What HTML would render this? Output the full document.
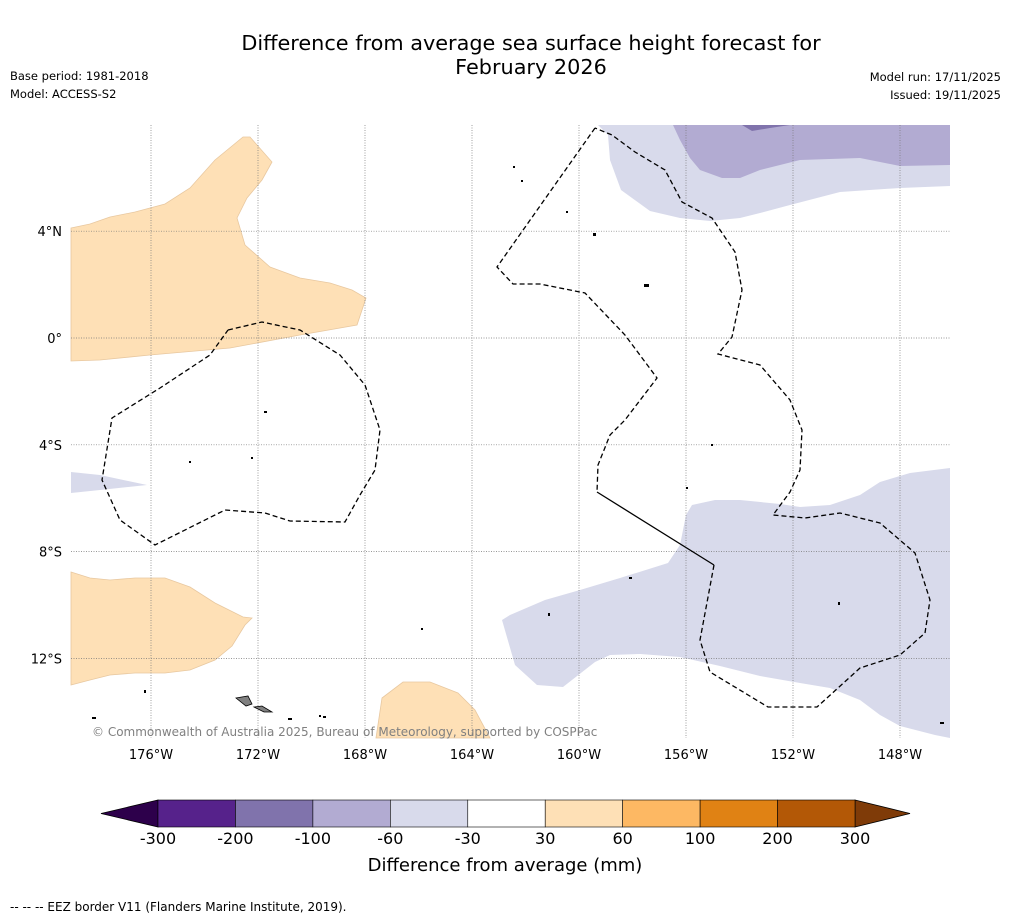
<!DOCTYPE html>
<html><head><meta charset="utf-8">
<style>
html,body{margin:0;padding:0;background:#fff;}
svg{display:block;font-family:"DejaVu Sans","Liberation Sans",sans-serif;}
</style></head>
<body>
<svg id="chart" width="1011" height="919" viewBox="0 0 1011 919">
<rect x="0" y="0" width="1011" height="919" fill="#fff"/>
<text x="531" y="50" text-anchor="middle" font-size="20.8" fill="#000">Difference from average sea surface height forecast for</text>
<text x="531" y="74" text-anchor="middle" font-size="20.8" fill="#000">February 2026</text>
<text x="10" y="80" font-size="11.5">Base period: 1981-2018</text>
<text x="10" y="98" font-size="11.5">Model: ACCESS-S2</text>
<text x="1001" y="81" font-size="11.5" text-anchor="end">Model run: 17/11/2025</text>
<text x="1001" y="99" font-size="11.5" text-anchor="end">Issued: 19/11/2025</text>

<g id="map">
<rect x="71" y="125" width="879" height="613" fill="#fff"/>
<polygon fill="#fee0b6" stroke="#e8c8a0" stroke-width="0.8" points="71,228 90,224 110,217 135,212 165,204 190,188 215,160 243,137 250,137 272,162 262,180 247,198 237,218 245,245 270,267 300,278 330,283 352,290 366,298 357,325 300,335 230,348 150,355 100,360 71,361"/>
<polygon fill="#d8daeb" points="71,472 100,475 147,485 100,490 71,493"/>
<polygon fill="#fee0b6" stroke="#e8c8a0" stroke-width="0.8" points="71,572 90,578 110,580 135,578 165,578 190,587 215,603 243,617 252,618 245,625 232,646 215,660 190,670 165,673 135,673 110,675 90,680 71,685"/>
<polygon fill="#fee0b6" stroke="#e8c8a0" stroke-width="0.8" points="382,698 403,682 430,682 458,693 475,710 490,738 376,738"/>
<polygon fill="#d8daeb" points="598,125 950,125 950,186 900,188 840,192 790,205 760,213 740,218 710,221 680,218 650,211 621,190 610,160 608,135"/>
<polygon fill="#b2abd2" points="673,125 950,125 950,165 900,166 860,158 800,160 760,170 740,178 722,178 700,170 690,158 680,140"/>
<polygon fill="#8073ac" points="742,125 790,125 770,128 752,131"/>
<polygon fill="#d8daeb" points="502,620 510,615 545,600 580,590 620,578 668,563 680,545 686,515 692,505 715,500 740,500 780,504 800,507 830,505 860,495 880,482 910,473 950,468 950,738 935,735 900,726 880,715 860,700 830,688 800,683 760,676 720,666 680,657 640,654 610,655 595,662 563,687 537,685 515,665"/>
<g id="grid"></g>
<polyline fill="none" stroke="#000" stroke-width="1.3" stroke-dasharray="5,3" points="228,330 262,322 300,330 340,355 365,385 380,430 375,470 360,495 345,522 290,521 265,513 225,510 155,545 120,520 102,480 112,418 160,388 210,355 228,330"/>
<polyline fill="none" stroke="#000" stroke-width="1.3" stroke-dasharray="5,3" points="595,128 497,267 513,284 540,284 585,293 625,335 657,378 625,420 610,435 598,465 597,492"/>
<polyline fill="none" stroke="#000" stroke-width="1.3" points="597,492 714,565"/>
<polyline fill="none" stroke="#000" stroke-width="1.3" stroke-dasharray="5,3" points="714,565 700,640 710,672 768,707 817,707 860,668 900,655 925,633 930,600 915,553 880,523 840,513 805,518 773,515 790,492 800,470 802,430 790,400 760,365 718,354 732,337 742,290 735,252 712,218 682,202 665,170 635,152 612,135 595,128"/>
<polygon fill="#808080" stroke="#000" stroke-width="0.8" points="236,698 248,696 252,704 246,706"/>
<polygon fill="#808080" stroke="#000" stroke-width="0.8" points="254,707 262,706 272,712 264,712"/>
<g fill="#000">
<rect x="264" y="411" width="3" height="2"/><rect x="251" y="457" width="2" height="2"/><rect x="189" y="461" width="2" height="2"/>
<rect x="593" y="233" width="3" height="3"/><rect x="644" y="284" width="5" height="3"/><rect x="629" y="577" width="3" height="2"/>
<rect x="144" y="690" width="2" height="3"/><rect x="92" y="717" width="4" height="2"/><rect x="288" y="718" width="4" height="2"/>
<rect x="319" y="715" width="2" height="2"/><rect x="323" y="716" width="3" height="2"/><rect x="548" y="613" width="2" height="3"/>
<rect x="711" y="444" width="2" height="2"/><rect x="686" y="487" width="2" height="2"/><rect x="838" y="602" width="2" height="3"/>
<rect x="513" y="166" width="2" height="2"/><rect x="521" y="180" width="2" height="2"/><rect x="566" y="211" width="2" height="2"/>
<rect x="421" y="628" width="2" height="2"/><rect x="940" y="722" width="4" height="2"/>
</g>
<text x="92" y="736" font-size="12" fill="#808080">© Commonwealth of Australia 2025, Bureau of Meteorology, supported by COSPPac</text>
</g>
<g id="colorbar"></g>
<text x="505" y="871" text-anchor="middle" font-size="18">Difference from average (mm)</text>
<text x="10" y="911" font-size="12">--  --  -- EEZ border V11 (Flanders Marine Institute, 2019).</text>
</svg>
<script>
const lonTicks = [-176, -172, -168, -164, -160, -156, -152, -148];
const latTicks = [4, 0, -4, -8, -12];
const cbBounds = [-300, -200, -100, -60, -30, 30, 60, 100, 200, 300];
const cbColors = ["#56228b", "#8073ac", "#b2abd2", "#d8daeb", "#ffffff", "#fee0b6", "#fdb863", "#e08214", "#b35806"];
const NS = "http://www.w3.org/2000/svg";
function xLon(lon){ return 151 + (lon + 176) * 26.75; }
function yLat(lat){ return 338 - lat * 26.7; }
function mk(tag, attrs, parent){ const e = document.createElementNS(NS, tag); for (const k in attrs) e.setAttribute(k, attrs[k]); parent.appendChild(e); return e; }
const grid = document.getElementById('grid');
const svg = document.getElementById('chart');
lonTicks.forEach(lon => {
  const x = xLon(lon);
  const l = mk('line', {x1:x, x2:x, y1:125, y2:738, stroke:'#777', 'stroke-width':0.7, 'stroke-dasharray':'1,1.5'}, grid);
  
  
  const t = mk('text', {x:x, y:759, 'text-anchor':'middle', 'font-size':13}, svg);
  t.textContent = Math.abs(lon) + '°W';
  
  
});
latTicks.forEach(lat => {
  const y = yLat(lat);
  const l = mk('line', {x1:71, x2:950, y1:y, y2:y, stroke:'#777', 'stroke-width':0.7, 'stroke-dasharray':'1,1.5'}, grid);
  
  
  const t = mk('text', {x:62, y:y+5, 'text-anchor':'end', 'font-size':13}, svg);
  t.textContent = lat === 0 ? '0°' : Math.abs(lat) + '°' + (lat > 0 ? 'N' : 'S');
  
  
});
const cb = document.getElementById('colorbar');
const cbX0 = 158, cbX1 = 855, cbY = 800, cbH = 27;
const w = (cbX1 - cbX0) / cbColors.length;
const lt = mk('polygon', {points:`${cbX0},${cbY} ${cbX0},${cbY+cbH} 101,${cbY+cbH/2}`, fill:'#2d004b', stroke:'#000', 'stroke-width':0.8}, cb);


const rt = mk('polygon', {points:`${cbX1},${cbY} ${cbX1},${cbY+cbH} 910,${cbY+cbH/2}`, fill:'#7f3b08', stroke:'#000', 'stroke-width':0.8}, cb);


cbColors.forEach((c, i) => {
  const r = mk('rect', {x:cbX0 + i*w, y:cbY, width:w, height:cbH, fill:c, stroke:'#000', 'stroke-width':0.6}, cb);
  
  
});
cbBounds.forEach((b, i) => {
  const t = mk('text', {x:cbX0 + i*w, y:844, 'text-anchor':'middle', 'font-size':16}, cb);
  t.textContent = b;
  
  
});
</script>
</body></html>
